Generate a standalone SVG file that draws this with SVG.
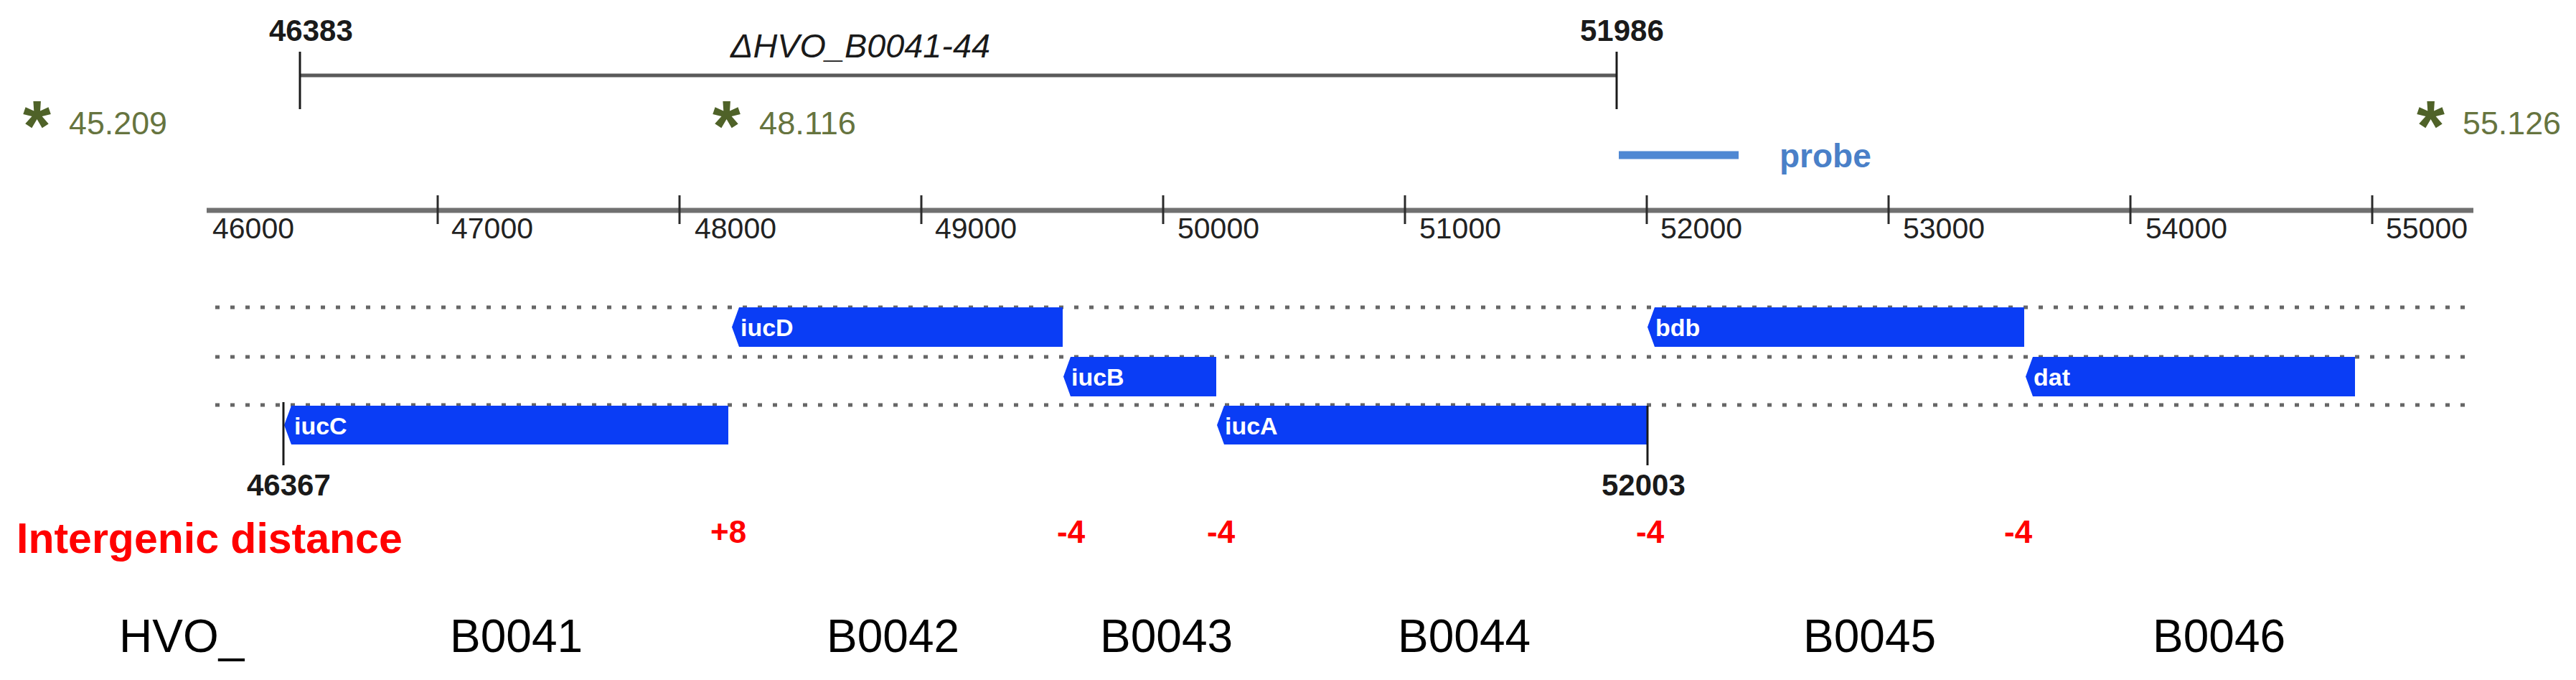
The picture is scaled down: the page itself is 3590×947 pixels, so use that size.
<svg xmlns="http://www.w3.org/2000/svg" width="3590" height="947" viewBox="0 0 3590 947">
<style>
.bg{fill:#ffffff}
.pos{font-family:"Liberation Sans",Arial,sans-serif;font-weight:bold;font-size:42px;fill:#1a1a1a}
.axlab{font-family:"Liberation Sans",Arial,sans-serif;font-size:40px;fill:#222}
.star{font-family:"Liberation Sans",Arial,sans-serif;font-weight:bold;font-size:100px;fill:#4F6228}
.num{font-family:"Liberation Sans",Arial,sans-serif;font-size:44px;fill:#66743F}
.title{font-family:"Liberation Sans",Arial,sans-serif;font-style:italic;font-size:46px;fill:#1a1a1a}
.probe{font-family:"Liberation Sans",Arial,sans-serif;font-weight:bold;font-size:46px;fill:#4A80C8}
.gene{fill:#0A3DF5}
.glab{font-family:"Liberation Sans",Arial,sans-serif;font-weight:bold;font-size:34px;fill:#ffffff}
.red{font-family:"Liberation Sans",Arial,sans-serif;font-weight:bold;fill:#FF0000}
.hvo{font-family:"Liberation Sans",Arial,sans-serif;font-size:64px;fill:#000}
.dots{stroke:#666;stroke-width:5;stroke-dasharray:6 15;fill:none}
.tick{stroke:#2b2b2b;stroke-width:3}
.mark{stroke:#1a1a1a;stroke-width:3}
</style>
<rect class="bg" x="0" y="0" width="3590" height="947"/>

<g id="deletion">
  <line x1="418" y1="105" x2="2253" y2="105" stroke="#5a5a5a" stroke-width="5"/>
  <line class="mark" x1="418" y1="72" x2="418" y2="152"/>
  <line class="mark" x1="2253" y1="72" x2="2253" y2="152"/>
  <text class="pos" x="375" y="57">46383</text>
  <text class="pos" x="2202" y="57">51986</text>
  <text class="title" x="1018" y="80" textLength="362" lengthAdjust="spacingAndGlyphs">ΔHVO_B0041-44</text>
</g>

<g id="markers">
  <text class="star" x="32" y="210">*</text>
  <text class="num" x="96" y="187" textLength="137" lengthAdjust="spacingAndGlyphs">45.209</text>
  <text class="star" x="993" y="210">*</text>
  <text class="num" x="1058" y="187" textLength="135" lengthAdjust="spacingAndGlyphs">48.116</text>
  <text class="star" x="3368" y="210">*</text>
  <text class="num" x="3432" y="187" textLength="137" lengthAdjust="spacingAndGlyphs">55.126</text>
</g>

<g id="probe">
  <line x1="2256" y1="216" x2="2423" y2="216" stroke="#4F88D3" stroke-width="11"/>
  <text class="probe" x="2480" y="233">probe</text>
</g>

<g id="axis">
  <line x1="288" y1="293" x2="3447" y2="293" stroke="#707070" stroke-width="7"/>
  <line class="tick" x1="610" y1="272" x2="610" y2="312"/>
  <line class="tick" x1="947" y1="272" x2="947" y2="312"/>
  <line class="tick" x1="1284" y1="272" x2="1284" y2="312"/>
  <line class="tick" x1="1621" y1="272" x2="1621" y2="312"/>
  <line class="tick" x1="1958" y1="272" x2="1958" y2="312"/>
  <line class="tick" x1="2295" y1="272" x2="2295" y2="312"/>
  <line class="tick" x1="2632" y1="272" x2="2632" y2="312"/>
  <line class="tick" x1="2969" y1="272" x2="2969" y2="312"/>
  <line class="tick" x1="3306" y1="272" x2="3306" y2="312"/>
  <text class="axlab" x="296" y="332" textLength="114" lengthAdjust="spacingAndGlyphs">46000</text>
  <text class="axlab" x="629" y="332" textLength="114" lengthAdjust="spacingAndGlyphs">47000</text>
  <text class="axlab" x="968" y="332" textLength="114" lengthAdjust="spacingAndGlyphs">48000</text>
  <text class="axlab" x="1303" y="332" textLength="114" lengthAdjust="spacingAndGlyphs">49000</text>
  <text class="axlab" x="1641" y="332" textLength="114" lengthAdjust="spacingAndGlyphs">50000</text>
  <text class="axlab" x="1978" y="332" textLength="114" lengthAdjust="spacingAndGlyphs">51000</text>
  <text class="axlab" x="2314" y="332" textLength="114" lengthAdjust="spacingAndGlyphs">52000</text>
  <text class="axlab" x="2652" y="332" textLength="114" lengthAdjust="spacingAndGlyphs">53000</text>
  <text class="axlab" x="2990" y="332" textLength="114" lengthAdjust="spacingAndGlyphs">54000</text>
  <text class="axlab" x="3325" y="332" textLength="114" lengthAdjust="spacingAndGlyphs">55000</text>
</g>

<g id="tracks">
  <line class="dots" x1="300" y1="428" x2="3440" y2="428"/>
  <line class="dots" x1="300" y1="497" x2="3440" y2="497"/>
  <line class="dots" x1="300" y1="564" x2="3440" y2="564"/>
</g>

<g id="gene-iucD">
  <path class="gene" d="M1030,428 L1481,428 L1481,483 L1030,483 L1020,455.5 Z"/>
  <text class="glab" x="1032" y="468">iucD</text>
</g>
<g id="gene-iucB">
  <path class="gene" d="M1492,497 L1695,497 L1695,552 L1492,552 L1482,524.5 Z"/>
  <text class="glab" x="1493" y="537">iucB</text>
</g>
<g id="gene-iucC">
  <path class="gene" d="M406,565 L1015,565 L1015,619 L406,619 L396,592 Z"/>
  <text class="glab" x="410" y="605">iucC</text>
</g>
<g id="gene-iucA">
  <path class="gene" d="M1706,565 L2296,565 L2296,619 L1706,619 L1696,592 Z"/>
  <text class="glab" x="1707" y="605">iucA</text>
</g>
<g id="gene-bdb">
  <path class="gene" d="M2306,428 L2821,428 L2821,483 L2306,483 L2296,455.5 Z"/>
  <text class="glab" x="2307" y="468">bdb</text>
</g>
<g id="gene-dat">
  <path class="gene" d="M2833,497 L3282,497 L3282,552 L2833,552 L2823,524.5 Z"/>
  <text class="glab" x="2834" y="537">dat</text>
</g>

<g id="boundaries">
  <line class="mark" x1="395" y1="560" x2="395" y2="648"/>
  <line class="mark" x1="2296" y1="565" x2="2296" y2="648"/>
  <text class="pos" x="344" y="690">46367</text>
  <text class="pos" x="2232" y="690">52003</text>
</g>

<g id="intergenic">
  <text class="red" x="23" y="770" font-size="59">Intergenic distance</text>
  <text class="red" x="990" y="756" font-size="44">+8</text>
  <text class="red" x="1473" y="756" font-size="44">-4</text>
  <text class="red" x="1682" y="756" font-size="44">-4</text>
  <text class="red" x="2280" y="756" font-size="44">-4</text>
  <text class="red" x="2793" y="756" font-size="44">-4</text>
</g>

<g id="locus-tags">
  <text class="hvo" x="166" y="908">HVO_</text>
  <text class="hvo" x="627" y="908">B0041</text>
  <text class="hvo" x="1152" y="908">B0042</text>
  <text class="hvo" x="1533" y="908">B0043</text>
  <text class="hvo" x="1948" y="908">B0044</text>
  <text class="hvo" x="2513" y="908">B0045</text>
  <text class="hvo" x="3000" y="908">B0046</text>
</g>
</svg>
